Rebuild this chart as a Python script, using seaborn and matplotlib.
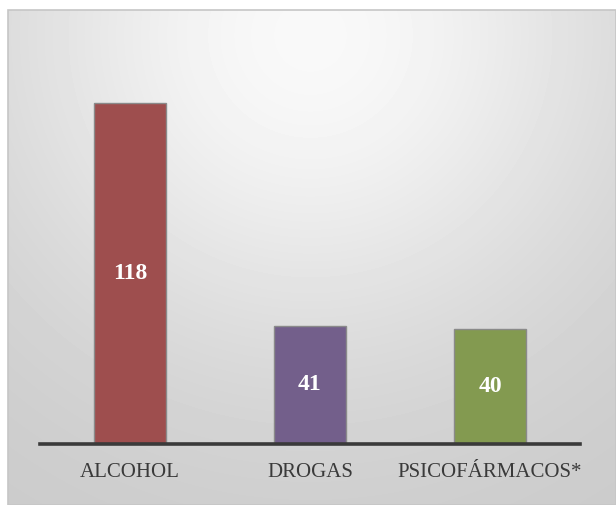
import numpy as np
import pandas as pd
import matplotlib.pyplot as plt
import seaborn as sns

categories = ["ALCOHOL", "DROGAS", "PSICOFÁRMACOS*"]
values = [118, 41, 40]
colors = ["#9E4E4E", "#735F8B", "#839A50"]

df = pd.DataFrame({"categoria": categories, "casos": values})

fig = plt.figure(figsize=(6.16, 5.05), dpi=100)

# --- background panel with soft radial gradient ---
bg = fig.add_axes([8 / 616, 0, 608 / 616, 495 / 505], zorder=-5)
h, w = 495, 608
yy, xx = np.mgrid[0:h, 0:w]
d = np.sqrt((xx - 302) ** 2 + (yy - 25) ** 2)
shade = 0.975 - 0.185 * (1 - np.exp(-(d / 320) ** 2))
bg.imshow(shade, cmap="gray", vmin=0, vmax=1, aspect="auto", interpolation="bilinear")
bg.axis("off")
fig.patches.append(plt.Rectangle((8 / 616, 0), 608 / 616, 495 / 505, transform=fig.transFigure,
                                 fill=False, edgecolor="#c6c6c6", linewidth=1.2, zorder=-4))

# --- bars ---
ax = fig.add_axes([40 / 616, 61 / 505, 540 / 616, 404 / 505])
ax.patch.set_alpha(0)
sns.barplot(data=df, x="categoria", y="casos", hue="categoria", palette=colors,
            legend=False, width=0.405, edgecolor="#8a8a8a", linewidth=1, ax=ax, saturation=1)

ax.set_xlim(-0.5, 2.5)
ax.set_ylim(0, 140)
ax.set_xlabel("")
ax.set_ylabel("")
ax.set_yticks([])
for s in ["top", "left", "right"]:
    ax.spines[s].set_visible(False)
ax.spines["bottom"].set_color("#3a3a3a")
ax.spines["bottom"].set_linewidth(2.6)
ax.tick_params(axis="x", length=0, pad=14)
for lbl in ax.get_xticklabels():
    lbl.set_fontfamily("Liberation Serif")
    lbl.set_fontsize(15)
    lbl.set_color("#3a3a3a")

for c in ax.containers:
    ax.bar_label(c, label_type="center", color="white", fontweight="bold",
                 fontsize=17, fontfamily="Liberation Serif")

fig.savefig("out.png", dpi=100)
